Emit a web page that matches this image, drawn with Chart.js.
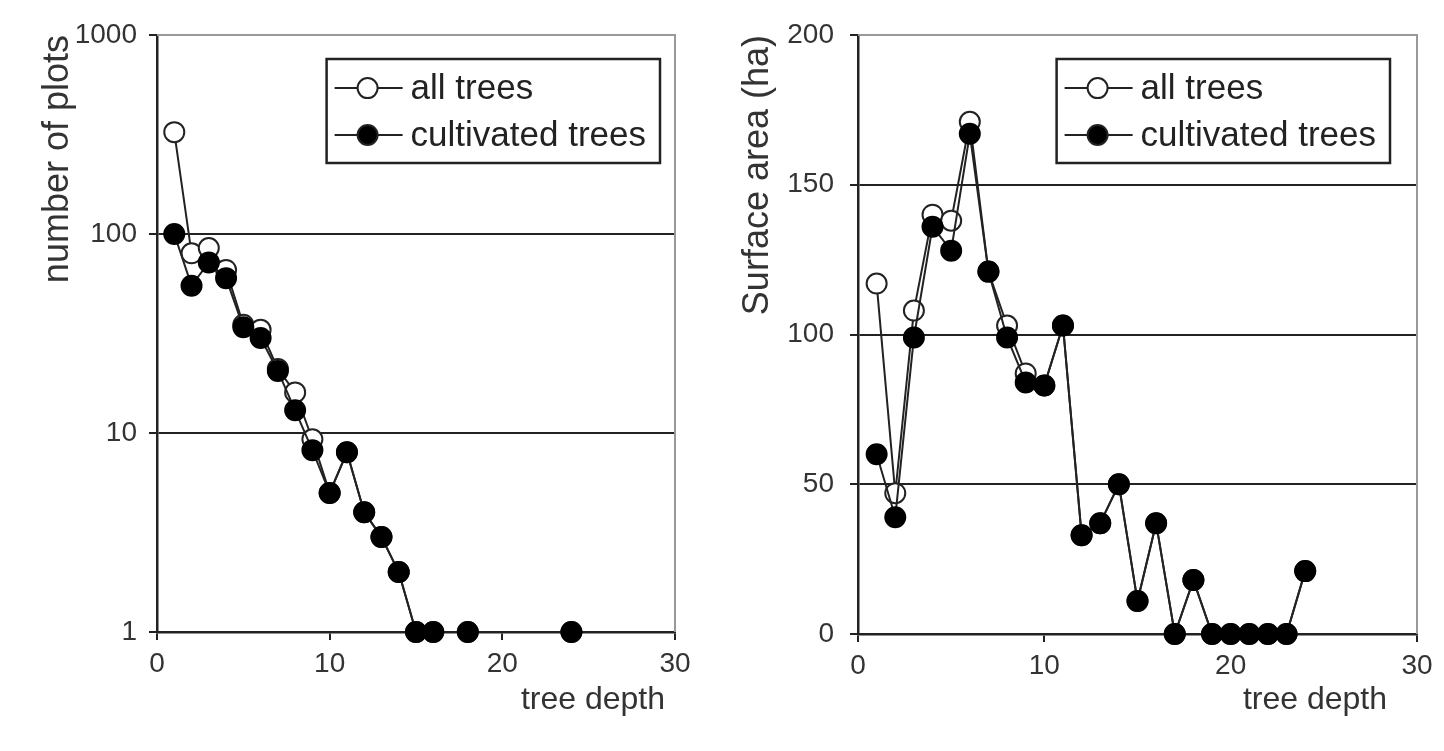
<!DOCTYPE html>
<html>
<head>
<meta charset="utf-8">
<script src="https://cdn.jsdelivr.net/npm/chart.js@4.4.1/dist/chart.umd.min.js"></script>
<style>
	html, body { margin: 0; padding: 0; background: #fff; }
	#wrap { position: relative; width: 1444px; height: 751px; }
	canvas { position: absolute; top: 0; }
	#plots { left: 0; }
	#area { left: 700px; }
</style>
</head>
<body>
<div id="wrap">
	<canvas id="plots" width="700" height="751"></canvas>
	<canvas id="area" width="744" height="751"></canvas>
</div>
<script>
// left chart: number of plots (log scale), zero counts are not drawn
var plotDepth       = [1, 2, 3, 4, 5, 6, 7, 8, 9, 10, 11, 12, 13, 14, 15, 16, 18, 24];
var plotsAll        = [325, 80, 85, 66, 35, 33, 21, 16, 9.3, 5, 8, 4, 3, 2, 1, 1, 1, 1];
var plotsCultivated = [100, 55, 72, 60, 34, 30, 20.5, 13, 8.2, 5, 8, 4, 3, 2, 1, 1, 1, 1];
var plotsYTicks     = [1, 10, 100, 1000];

// right chart: surface area (ha)
var areaDepth       = [1, 2, 3, 4, 5, 6, 7, 8, 9, 10, 11, 12, 13, 14, 15, 16, 17, 18, 19, 20, 21, 22, 23, 24];
var areaAll         = [117, 47, 108, 140, 138, 171, 121, 103, 87, 83, 103, 33, 37, 50, 11, 37, 0, 18, 0, 0, 0, 0, 0, 21];
var areaCultivated  = [60, 39, 99, 136, 128, 167, 121, 99, 84, 83, 103, 33, 37, 50, 11, 37, 0, 18, 0, 0, 0, 0, 0, 21];
var areaYTicks      = [0, 50, 100, 150, 200];

var depthTicks = [0, 10, 20, 30];
var seriesNames = ['all trees', 'cultivated trees'];

var FONT = "'Liberation Sans', Arial, sans-serif";
var INK = '#222';

function points(xs, ys) {
	return xs.map(function(x, i) { return { x: x, y: ys[i] }; });
}

function fixTicks(values) {
	return function(scale) {
		scale.ticks = values.map(function(v) { return { value: v }; });
	};
}

// gray top/right frame like the original
var frame = {
	id: 'frame',
	beforeDatasetsDraw: function(chart) {
		var a = chart.chartArea, ctx = chart.ctx;
		ctx.save();
		ctx.strokeStyle = '#999';
		ctx.lineWidth = 2;
		ctx.beginPath();
		ctx.moveTo(a.left, a.top);
		ctx.lineTo(a.right, a.top);
		ctx.lineTo(a.right, a.bottom);
		ctx.stroke();
		ctx.restore();
	}
};

// x axis caption, right aligned a bit in from the plot edge
var xCaption = {
	id: 'xCaption',
	afterDraw: function(chart, args, opts) {
		var ctx = chart.ctx;
		ctx.save();
		ctx.font = '32px ' + FONT;
		ctx.fillStyle = '#333';
		ctx.textAlign = 'right';
		ctx.textBaseline = 'middle';
		ctx.fillText(opts.text, chart.chartArea.right - opts.inset, 700);
		ctx.restore();
	}
};

// legend inside a box in the upper right of the plot
var boxLegend = {
	id: 'boxLegend',
	afterDatasetsDraw: function(chart, args, opts) {
		var ctx = chart.ctx, a = chart.chartArea;
		// datasets are stored cultivated first (so it is drawn on top); legend lists them reversed
		var items = chart.data.datasets.slice().reverse();
		ctx.save();
		ctx.font = opts.fontSize + 'px ' + FONT;
		var textW = 0;
		items.forEach(function(d) { textW = Math.max(textW, ctx.measureText(d.label).width); });
		var right = a.right - opts.gapRight;
		var left = right - (90 + textW + 8);
		var top = a.top + opts.gapTop;
		var h = opts.height;
		ctx.fillStyle = '#fff';
		ctx.fillRect(left, top, right - left, h);
		ctx.strokeStyle = INK;
		ctx.lineWidth = 2.5;
		ctx.strokeRect(left, top, right - left, h);
		items.forEach(function(d, i) {
			var y = top + h * (i === 0 ? 0.28 : 0.73);
			ctx.beginPath();
			ctx.moveTo(left + 8, y);
			ctx.lineTo(left + 76, y);
			ctx.lineWidth = 2;
			ctx.strokeStyle = INK;
			ctx.stroke();
			ctx.beginPath();
			ctx.arc(left + 41, y, 10, 0, Math.PI * 2);
			ctx.fillStyle = d.pointBackgroundColor;
			ctx.fill();
			ctx.stroke();
			ctx.fillStyle = INK;
			ctx.textBaseline = 'middle';
			ctx.fillText(d.label, left + 84, y + 1);
		});
		ctx.restore();
	}
};

function makeChart(id, cfg) {
	var ctx = document.getElementById(id).getContext('2d');
	return new Chart(ctx, {
		type: 'line',
		data: {
			datasets: [
				{
					label: seriesNames[1],
					data: points(cfg.depth, cfg.cultivated),
					borderColor: INK,
					borderWidth: 2,
					pointRadius: 10,
					pointBorderWidth: 2,
					pointBackgroundColor: '#000',
					pointBorderColor: '#000',
					clip: false
				},
				{
					label: seriesNames[0],
					data: points(cfg.depth, cfg.all),
					borderColor: INK,
					borderWidth: 2,
					pointRadius: 10,
					pointBorderWidth: 2,
					pointBackgroundColor: '#fff',
					pointBorderColor: INK,
					clip: false
				}
			]
		},
		options: {
			responsive: false,
			animation: false,
			layout: { padding: { top: 35, right: cfg.padRight, left: 0, bottom: 0 } },
			plugins: {
				legend: { display: false },
				tooltip: { enabled: false },
				boxLegend: { fontSize: 35, gapRight: cfg.legendGap, gapTop: 24, height: 104 },
				xCaption: { text: 'tree depth', inset: cfg.captionInset }
			},
			scales: {
				x: {
					type: 'linear',
					min: 0,
					max: 30,
					afterBuildTicks: fixTicks(depthTicks),
					afterFit: function(scale) {
						scale.height = cfg.xHeight;
						scale.paddingLeft = 0;
						scale.paddingRight = 0;
					},
					border: { color: INK, width: 2.5 },
					grid: { drawOnChartArea: false, drawTicks: true, tickLength: 8, color: INK, lineWidth: 2 },
					ticks: { color: '#333', padding: 7, maxRotation: 0, font: { family: FONT, size: 28 } },
					title: { display: false }
				},
				y: cfg.y
			}
		},
		plugins: [frame, boxLegend, xCaption]
	});
}

function yAxis(extra) {
	var base = {
		afterFit: function(scale) {
			scale.width = extra.width;
			scale.paddingTop = 0;
			scale.paddingBottom = 0;
		},
		border: { color: INK, width: 2.5 },
		grid: { color: INK, lineWidth: 2, drawTicks: true, tickLength: 8 },
		ticks: {
			color: '#333',
			padding: extra.tickPad,
			font: { family: FONT, size: 28 },
			callback: function(v) { return String(v); }
		},
		title: {
			display: true,
			text: extra.title,
			align: 'end',
			color: '#333',
			font: { family: FONT, size: 36 },
			padding: { top: extra.titlePad, bottom: 0 }
		}
	};
	return Object.assign(base, extra.scale);
}

makeChart('plots', {
	depth: plotDepth,
	all: plotsAll,
	cultivated: plotsCultivated,
	padRight: 25,
	xHeight: 119,
	legendGap: 15,
	captionInset: 10,
	y: yAxis({
		width: 157,
		title: 'number of plots',
		titlePad: 36,
		tickPad: 12,
		scale: { type: 'logarithmic', min: 1, max: 1000, afterBuildTicks: fixTicks(plotsYTicks) }
	})
});

makeChart('area', {
	depth: areaDepth,
	all: areaAll,
	cultivated: areaCultivated,
	padRight: 27,
	xHeight: 117,
	legendGap: 27,
	captionInset: 30,
	y: yAxis({
		width: 158,
		title: 'Surface area (ha)',
		titlePad: 36,
		tickPad: 16,
		scale: { type: 'linear', min: 0, max: 200, afterBuildTicks: fixTicks(areaYTicks) }
	})
});
</script>
</body>
</html>
